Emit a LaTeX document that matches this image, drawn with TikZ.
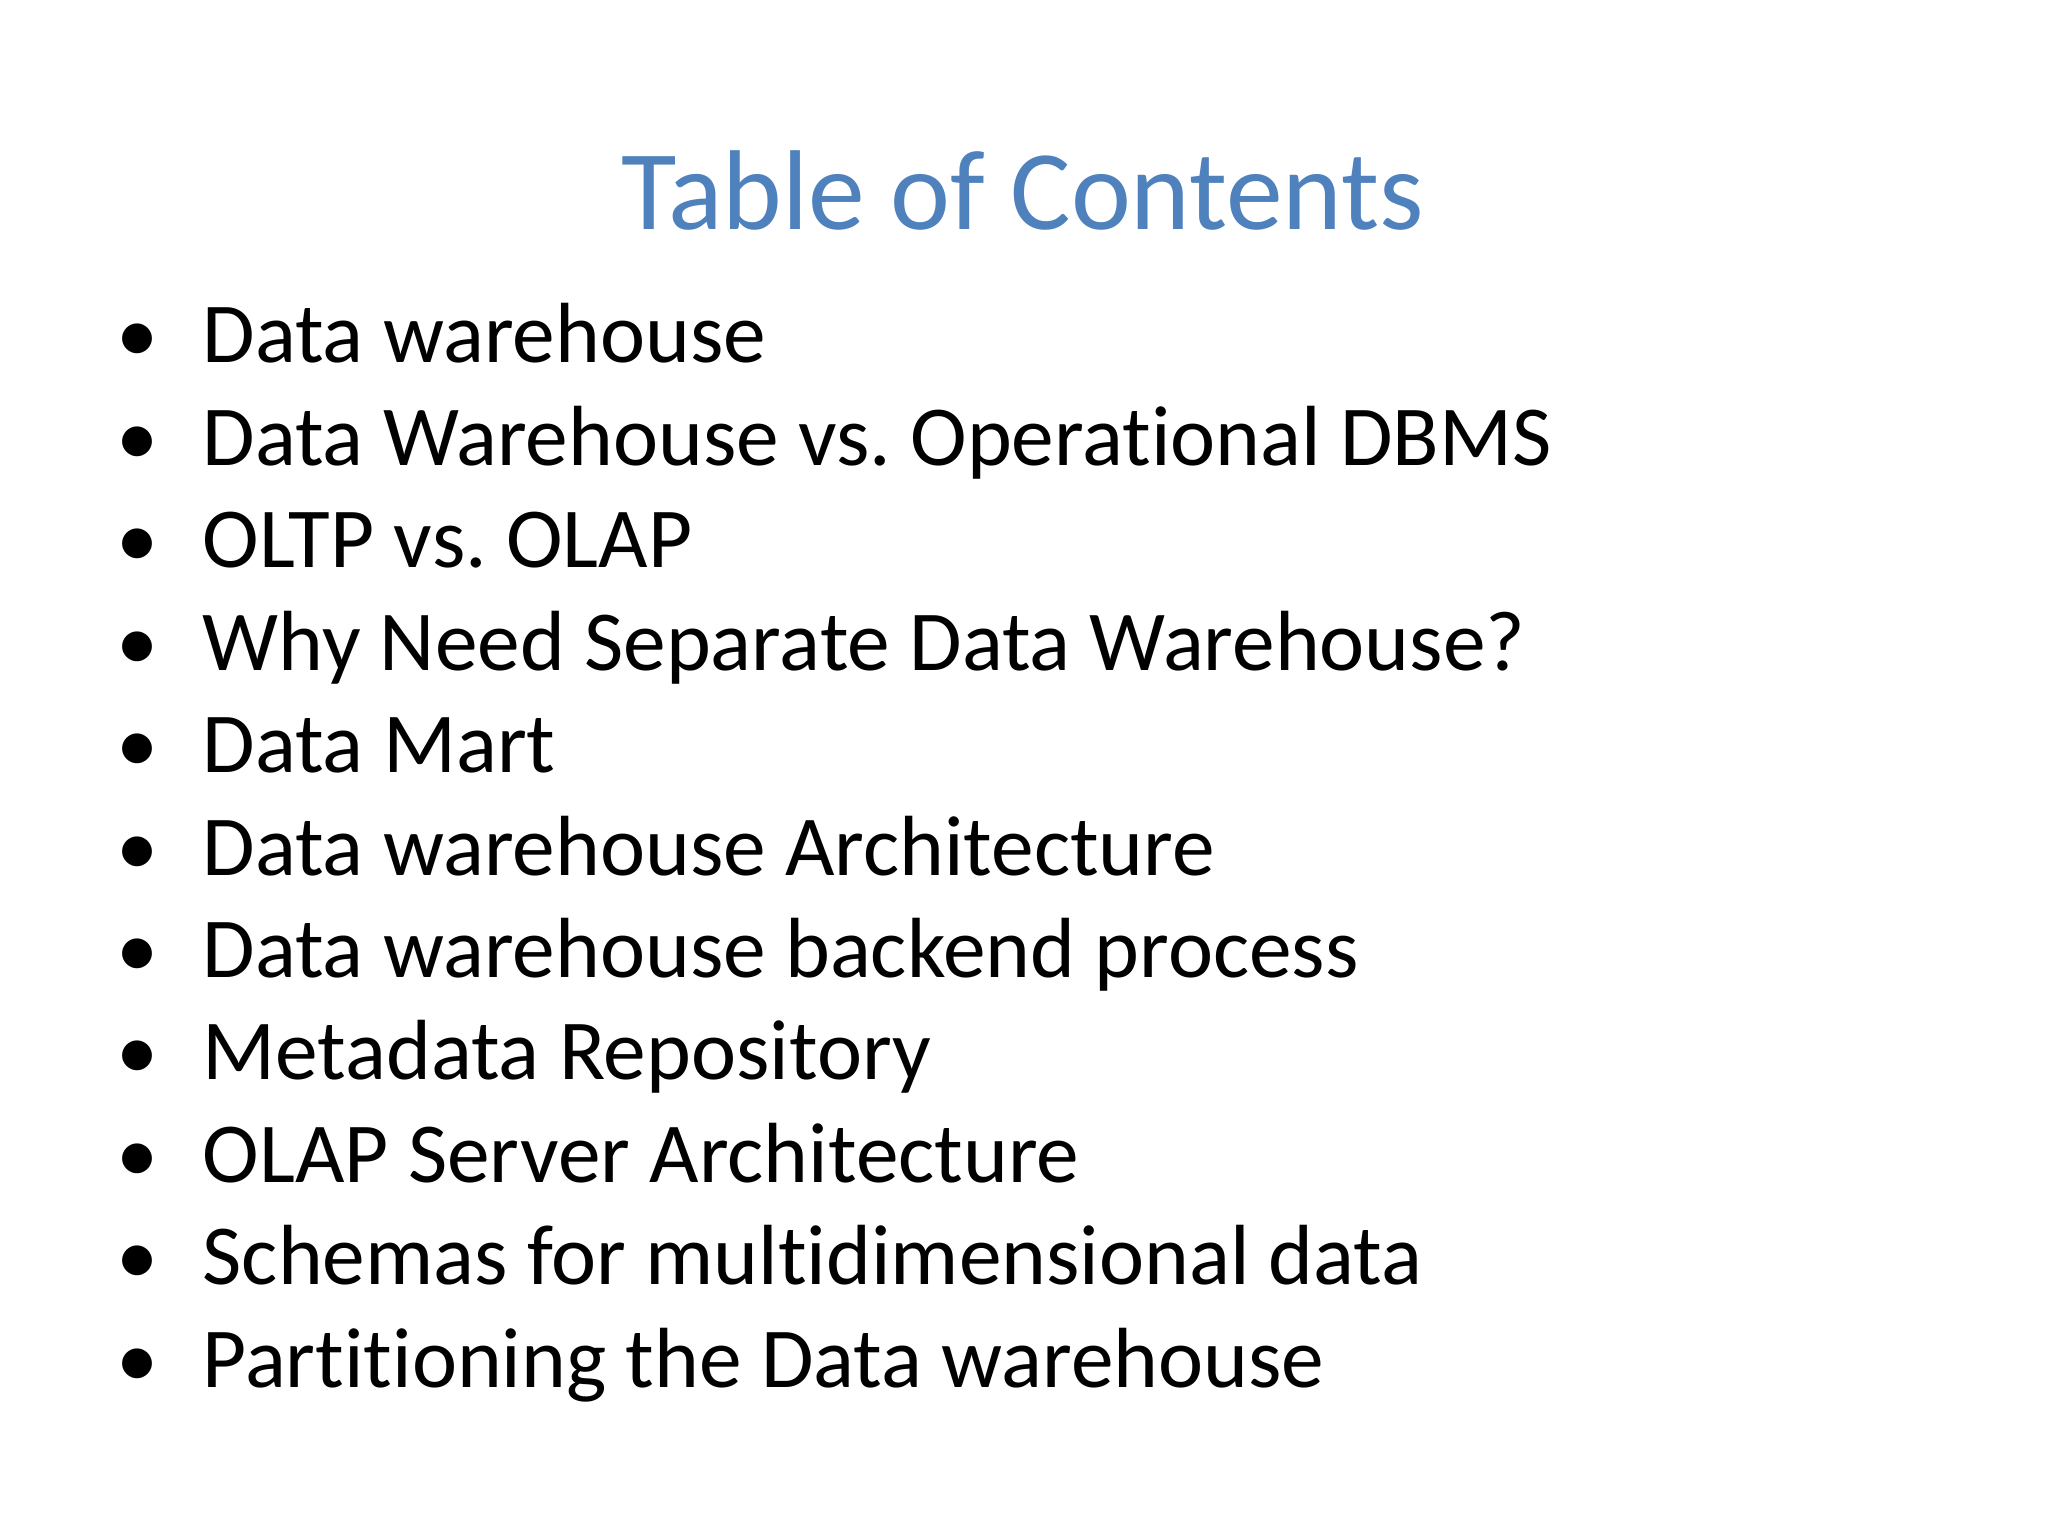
\documentclass[tikz,border=0pt]{standalone}
\usepackage{fontspec}
\setmainfont[Ligatures={NoCommon}]{Carlito}
\definecolor{titleblue}{RGB}{79,129,189}
\frenchspacing
\begin{document}
\begin{tikzpicture}[x=1cm,y=1cm,
  item/.style={anchor=base west,inner sep=0pt,font=\fontsize{24.3}{30}\selectfont},
  bul/.style={anchor=base,inner sep=0pt,font=\fontsize{24}{30}\selectfont}]
\useasboundingbox (0,0) rectangle (20.48,-15.36);
\node[anchor=base,inner sep=0pt,text=titleblue,font=\fontsize{32.3}{40}\selectfont] (title) at (10.23,-2.30) {Table of Contents};
\foreach \t [count=\i] in {Data warehouse,Data Warehouse vs. Operational DBMS,OLTP vs. OLAP,Why Need Separate Data Warehouse?,Data Mart,Data warehouse Architecture,Data warehouse backend process,Metadata Repository,OLAP Server Architecture,Schemas for multidimensional data,Partitioning the Data warehouse}{
  \pgfmathsetmacro\yy{-3.63-1.024*(\i-1)}
  \node[bul] (b\i) at (1.38,\yy) {•};
  \node[item] (t\i) at (2.02,\yy) {\t};
}
\end{tikzpicture}
\end{document}
